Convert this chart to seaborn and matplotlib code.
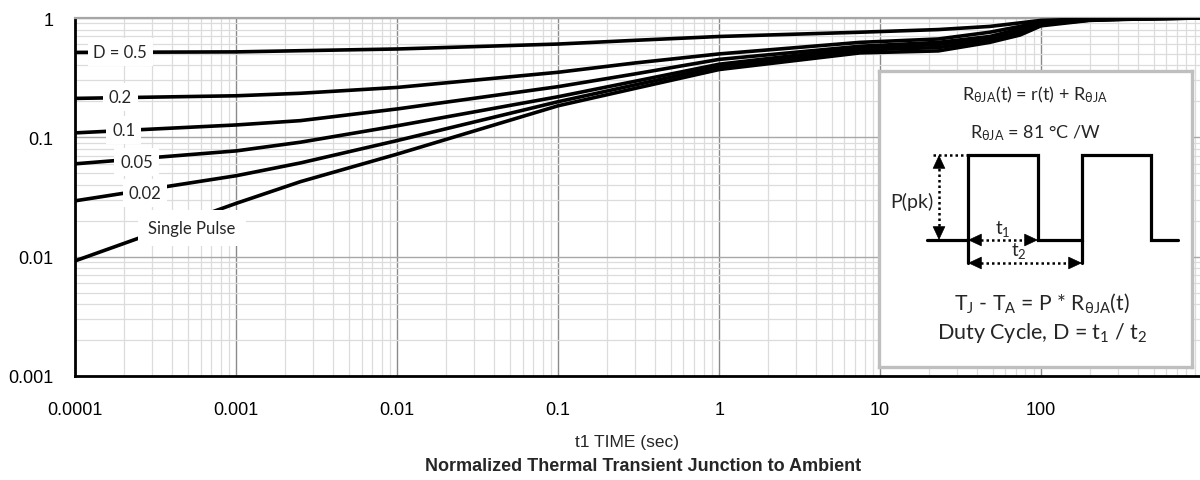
import matplotlib
matplotlib.use("Agg")
import matplotlib.pyplot as plt
import matplotlib.ticker as mticker
import numpy as np
import pandas as pd
import seaborn as sns

# pulse width (sec) and normalized transient r(t)
t = [1e-4, 1e-3, 2.5e-3, 1e-2, 0.1, 0.3, 1, 7.5, 23, 48, 74, 100, 200, 400, 1000]
d_050 = [0.515, 0.52, 0.532, 0.55, 0.605, 0.65, 0.70, 0.76, 0.80, 0.85, 0.91, 0.955, 0.98, 0.995, 1.0]
d_020 = [0.212, 0.223, 0.234, 0.262, 0.351, 0.42, 0.50, 0.625, 0.667, 0.76, 0.85, 0.93, 0.975, 0.99, 1.0]
d_010 = [0.109, 0.127, 0.138, 0.173, 0.266, 0.34, 0.45, 0.58, 0.625, 0.70, 0.81, 0.91, 0.97, 0.99, 1.0]
d_005 = [0.060, 0.077, 0.091, 0.125, 0.219, 0.295, 0.41, 0.56, 0.60, 0.68, 0.78, 0.895, 0.965, 0.985, 1.0]
d_002 = [0.0294, 0.0477, 0.061, 0.094, 0.199, 0.275, 0.39, 0.54, 0.565, 0.65, 0.75, 0.88, 0.96, 0.985, 1.0]
single = [0.00924, 0.028, 0.0425, 0.0724, 0.184, 0.257, 0.37, 0.51, 0.53, 0.625, 0.72, 0.86, 0.955, 0.98, 1.0]

names = ["D = 0.5", "0.2", "0.1", "0.05", "0.02", "Single Pulse"]
label_x = [1.9e-4, 1.9e-4, 2.0e-4, 2.4e-4, 2.7e-4, 5.3e-4]
label_y = [0.519, 0.218, 0.115, 0.062, 0.034, 0.0174]

x_ticks = [1e-4, 1e-3, 1e-2, 0.1, 1, 10, 100]
x_tick_labels = ["0.0001", "0.001", "0.01", "0.1", "1", "10", "100"]
y_ticks = [0.001, 0.01, 0.1, 1]
y_tick_labels = ["0.001", "0.01", "0.1", "1"]

sns.set_style("white")
plt.rcParams["font.family"] = ["Liberation Sans", "DejaVu Sans"]
plt.rcParams["mathtext.fontset"] = "custom"
plt.rcParams["mathtext.rm"] = "Lato"
plt.rcParams["mathtext.it"] = "Lato:italic"
plt.rcParams["mathtext.bf"] = "Lato:bold"
calibri = ["Lato", "DejaVu Sans"]

rows = []
for name, vals in zip(names, [d_050, d_020, d_010, d_005, d_002, single]):
    for x, y in zip(t, vals):
        rows.append({"t": x, "r": y, "curve": name})
df = pd.DataFrame(rows)

fig = plt.figure(figsize=(12, 4.81), dpi=100)
ax = fig.add_axes([75.4 / 1200, 1 - 377 / 481, 1126.6 / 1200, 358 / 481])

sns.lineplot(data=df, x="t", y="r", hue="curve", palette=["black"] * 6,
             lw=2.6, legend=False, ax=ax, estimator=None, sort=False, zorder=3)
ax.set_xscale("log")
ax.set_yscale("log")
ax.set_xlim(1e-4, 1e3)
ax.set_ylim(1e-3, 1)

ax.set_xticks(x_ticks)
ax.set_xticklabels(x_tick_labels)
ax.set_yticks(y_ticks)
ax.set_yticklabels(y_tick_labels)
ax.xaxis.set_minor_locator(mticker.LogLocator(base=10, subs=np.arange(2, 10)))
ax.yaxis.set_minor_locator(mticker.LogLocator(base=10, subs=np.arange(2, 10)))
ax.xaxis.set_minor_formatter(mticker.NullFormatter())
ax.yaxis.set_minor_formatter(mticker.NullFormatter())
ax.tick_params(which="both", length=0, labelsize=13, colors="black")
ax.tick_params(axis="x", pad=18)
ax.tick_params(axis="y", pad=16)
ax.set_xlabel("")
ax.set_ylabel("")

ax.grid(which="minor", color="#dcdcdc", lw=0.9)
ax.grid(which="major", axis="x", color="#8a8a8a", lw=1.0)
ax.grid(which="major", axis="y", color="#a8a8a8", lw=1.0)
ax.set_axisbelow(True)

ax.spines["top"].set_color("#a6a6a6")
ax.spines["top"].set_linewidth(1.6)
ax.spines["right"].set_visible(False)
for s in ["left", "bottom"]:
    ax.spines[s].set_color("black")
    ax.spines[s].set_linewidth(2)

for name, x, y in zip(names, label_x, label_y):
    pad = 0.6 if name == "Single Pulse" else 0.35
    ax.text(x, y, name, ha="center", va="center", fontsize=12, family=calibri,
            zorder=5, bbox=dict(boxstyle=f"square,pad={pad}", fc="white", ec="none"))

fig.text(627 / 1200, 1 - 443 / 481, "t1 TIME (sec)", ha="center", va="center", fontsize=12.5)
fig.text(643 / 1200, 1 - 467 / 481, "Normalized Thermal Transient Junction to Ambient",
         ha="center", va="center", fontsize=13, fontweight="bold")

# inset with the pulse diagram, in pixel-like units
ins = fig.add_axes([879 / 1200, 1 - 368 / 481, 313 / 1200, 296 / 481])
ins.set_xlim(0, 313)
ins.set_ylim(296, 0)
ins.set_xticks([])
ins.set_yticks([])
ins.set_facecolor("white")
for s in ins.spines.values():
    s.set_color("#bfbfbf")
    s.set_linewidth(2.4)

wx = [48, 89, 89, 159, 159, 203, 203, 272, 272, 299]
wy = [169, 169, 84, 84, 169, 169, 84, 84, 169, 169]
ins.plot(wx, wy, color="black", lw=2.3, solid_joinstyle="miter")
ins.plot([89, 89], [169, 192], color="black", lw=2.3)
ins.plot([203, 203], [169, 192], color="black", lw=2.3)

ins.plot([54, 89], [84, 84], color="black", lw=1.8, ls=(0, (1, 1.2)))
ins.plot([60, 60], [92, 160], color="black", lw=1.8, ls=(0, (1, 1.2)))
ins.plot([96, 152], [169, 169], color="black", lw=1.8, ls=(0, (1, 1.2)))
ins.plot([96, 196], [192, 192], color="black", lw=1.8, ls=(0, (1, 1.2)))


def head(x0, y0, x1, y1):
    ins.annotate("", xy=(x1, y1), xytext=(x0, y0),
                 arrowprops=dict(arrowstyle="-|>,head_length=0.9,head_width=0.42",
                                 color="black", lw=0.5, shrinkA=0, shrinkB=0))


head(60, 98, 60, 84)
head(60, 155, 60, 169)
head(102, 169, 89, 169)
head(146, 169, 159, 169)
head(102, 192, 89, 192)
head(190, 192, 203, 192)

ins.text(156, 23, r"R$_\mathrm{θJA}$(t) = r(t) + R$_\mathrm{θJA}$", ha="center", va="center",
         fontsize=13, family=calibri)
ins.text(156, 61, r"R$_\mathrm{θJA}$ = 81 °C /W", ha="center", va="center",
         fontsize=13, family=calibri)
ins.text(33, 130, "P(pk)", ha="center", va="center", fontsize=14, family=calibri)
ins.text(124, 157, r"t$_\mathrm{1}$", ha="center", va="center", fontsize=13.5, family=calibri)
ins.text(140, 179, r"t$_\mathrm{2}$", ha="center", va="center", fontsize=13.5, family=calibri)
ins.text(163, 231, r"T$_\mathrm{J}$ - T$_\mathrm{A}$ = P * R$_\mathrm{θJA}$(t)", ha="center",
         va="center", fontsize=15.2, family=calibri)
ins.text(163, 261, r"Duty Cycle, D = t$_\mathrm{1}$ / t$_\mathrm{2}$", ha="center",
         va="center", fontsize=15.5, family=calibri)

fig.savefig("out.png", dpi=100)
